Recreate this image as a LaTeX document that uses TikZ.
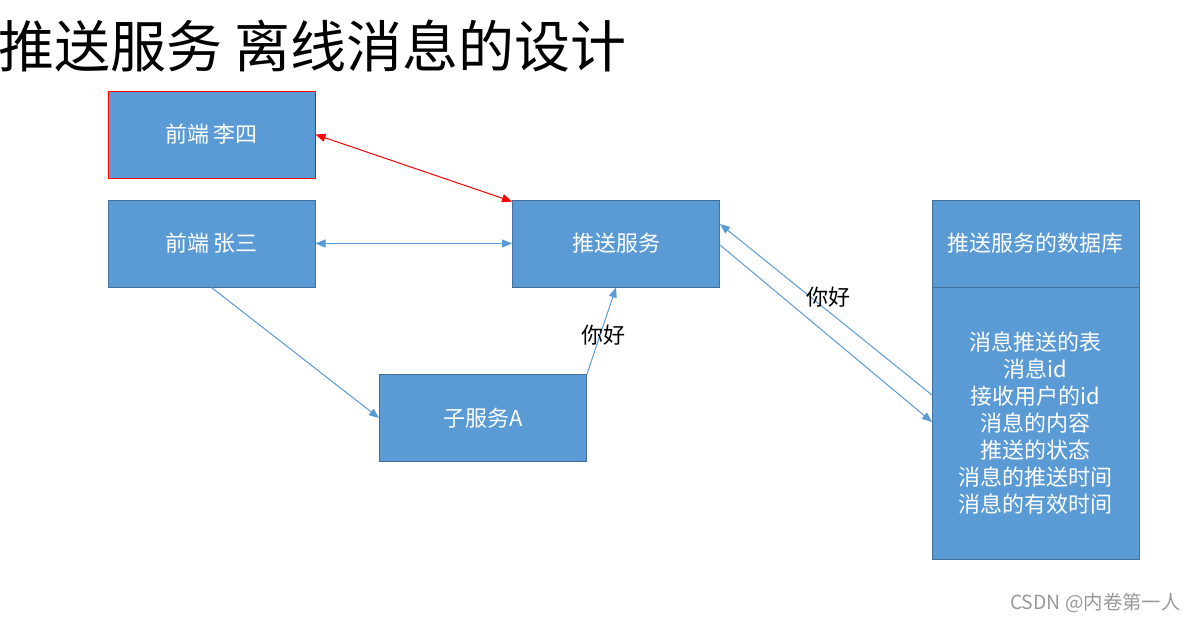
\documentclass[tikz,border=0pt]{standalone}
\usepackage{fontspec}
\setmainfont{Noto Sans CJK SC}
\usetikzlibrary{positioning, calc, arrows.meta}

\definecolor{boxblue}{HTML}{5B9BD5}
\definecolor{boxedge}{HTML}{41719C}

\tikzset{
    svcbox/.style={draw=boxedge, fill=boxblue, text=white, line width=0.5pt,
        minimum width=103.5pt, minimum height=43.5pt, inner sep=0pt, font=\fontsize{11}{13.5}\selectfont},
    link/.style={draw=boxblue, line width=0.5pt},
    tip/.style={-{Triangle[length=5pt, width=4pt]}},
    label/.style={font=\fontsize{11}{13}\selectfont, inner sep=1pt}
}

\begin{document}
\begin{tikzpicture}[x=0.5pt, y=-0.5pt]
    \useasboundingbox[fill=white] (0,0) rectangle (1196,623);

    % title
    \node[anchor=west, inner sep=0pt, font=\fontsize{28}{32}\selectfont] (title) at (-2,46)
        {推送服务 离线消息的设计};

    % front ends
    \node[svcbox, draw=red] (lisi) at (211.5,134.5) {前端 李四};
    \node[svcbox] (zhangsan) at (211.5,243.5) {前端 张三};

    % push service and sub service
    \node[svcbox] (push) at (616,243.5) {推送服务};
    \node[svcbox] (sub) at (483,418) {子服务A};

    % database
    \node[svcbox, minimum height=43.5pt] (dbhead) at (1035.5,243.5) {推送服务的数据库};
    \node[svcbox, minimum height=136pt, align=center] (dbbody) at (1035.5,423)
        {消息推送的表\\消息id\\接收用户的id\\消息的内容\\推送的状态\\消息的推送时间\\消息的有效时间};

    % links
    \draw[link, draw=red, {Triangle[length=5pt, width=4pt]}-{Triangle[length=5pt, width=4pt]}, red]
        (lisi.east) -- ($(push.north west)+(0,2)$);
    \draw[link, {Triangle[length=5pt, width=4pt]}-{Triangle[length=5pt, width=4pt]}, boxblue]
        (zhangsan.east) -- (push.west);
    \draw[link, tip, boxblue] (zhangsan.south) -- (sub.west);
    \draw[link, tip, boxblue] (sub.north east) -- (push.south)
        node[label, pos=0.45, left=-14pt, black] (hello1) {你好};

    % push service <-> database
    \coordinate (dbout) at (932,395);
    \coordinate (pushin) at (720,224);
    \coordinate (pushout) at (720,245);
    \coordinate (dbin) at (932,422);
    \draw[link, tip, boxblue] (dbout) -- (pushin);
    \draw[link, tip, boxblue] (pushout) -- (dbin);
    \node[label] (hello2) at (828,297) {你好};

    % watermark
    \node[anchor=east, inner sep=0pt, text=gray!80, font=\fontsize{9.7}{11}\selectfont] (mark) at (1181,603)
        {CSDN @内卷第一人};
\end{tikzpicture}
\end{document}
